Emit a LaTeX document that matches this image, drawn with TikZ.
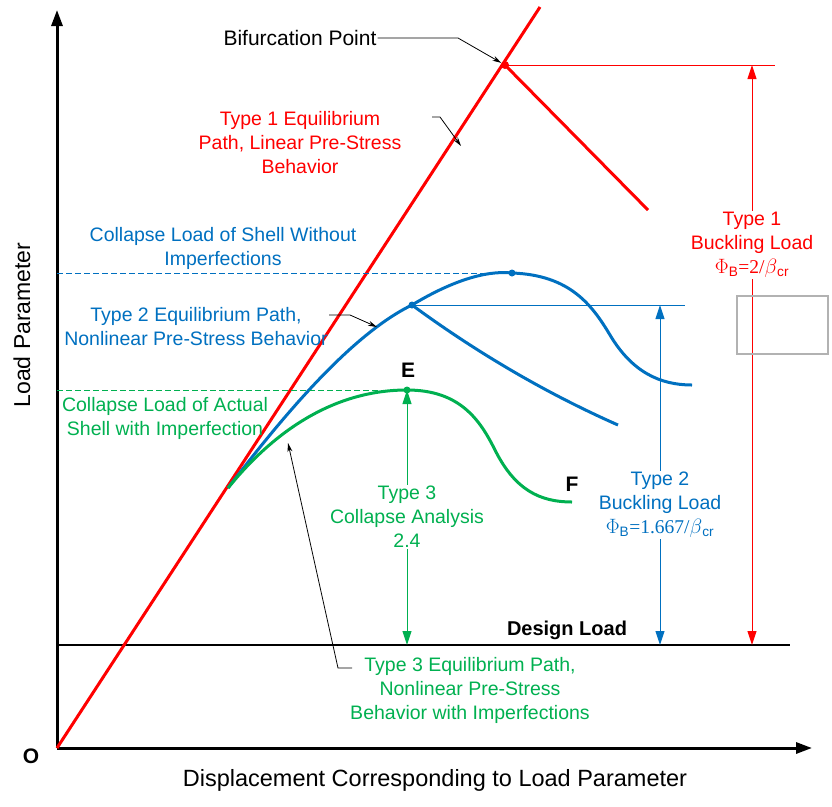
\documentclass[tikz,border=0pt]{standalone}
\usepackage{fontspec}
\setmainfont{Liberation Sans}
\newfontfamily\serifff{Liberation Serif}
\usetikzlibrary{arrows.meta}
\definecolor{cred}{HTML}{FF0000}
\definecolor{cblue}{HTML}{0070C0}
\definecolor{cgreen}{HTML}{00B050}
\begin{document}
\begin{tikzpicture}[x=1pt,y=-1pt,
  lab/.style={font=\fontsize{19.5}{24}\selectfont,align=center,inner sep=1pt},
  path/.style={line width=3pt},
  dim/.style={line width=1pt,{Triangle[length=14pt,width=9pt]}-{Triangle[length=14pt,width=9pt]}},
  lead/.style={line width=0.8pt,-{Stealth[length=9pt,width=5pt]}},
  dot/.style={circle,fill,inner sep=0pt,minimum size=7pt}]
\useasboundingbox (0,0) rectangle (832,806);
% axes
\coordinate (O) at (57,748);
\coordinate (ytop) at (57,10);
\coordinate (xend) at (812,748);
\draw[line width=3pt,-{Triangle[length=16pt,width=11pt]}] (O) -- (ytop);
\draw[line width=3pt,-{Triangle[length=16pt,width=11pt]}] (O) -- (xend);
\node[lab,font=\fontsize{21}{25}\selectfont\bfseries] (Olab) at (31,756) {O};
\node[lab,font=\fontsize{23}{27}\selectfont,rotate=90] (ylab) at (22,325) {Load Parameter};
\node[lab,font=\fontsize{23.5}{27}\selectfont] (xlab) at (435,780) {Displacement Corresponding to Load Parameter};
% design load
\coordinate (dl1) at (57,645);
\coordinate (dl2) at (790,645);
\draw[line width=1.2pt] (dl1) -- (dl2);
\node[lab,font=\fontsize{20}{24}\selectfont\bfseries] (dlab) at (567,630) {Design Load};
% red
\coordinate (r0) at (57,748);
\coordinate (r1) at (540,7);
\node[dot,cred,minimum size=8pt] (bif) at (505,65) {};
\coordinate (rend) at (648,210);
\draw[path,cred] (r0) -- (r1);
\draw[path,cred] (bif.center) -- (rend);
\coordinate (rh) at (775,65);
\draw[cred,line width=1pt] (bif.center) -- (rh);
\coordinate (rt) at (752,65);
\coordinate (rb) at (752,645);
\draw[dim,cred] (rt) -- (rb);
\node[lab,cred,fill=white] (t1) at (752,245) {Type 1\\Buckling Load\\{\serifff $\Phi_{\mathrm{B}}$=2/$\beta$}\textsubscript{cr}};
\node[draw=gray!60,line width=1.2pt,minimum width=91pt,minimum height=58pt] (gbox) at (782.5,325) {};
% blue
\node[dot,cblue] (b1) at (412,305) {};
\node[dot,cblue] (b2) at (512,273) {};
\coordinate (bs) at (228,488);
\draw[path,cblue] (bs) .. controls (280,420) and (350,335) .. (b1.center)
  .. controls (450,282) and (485,270) .. (b2.center)
  .. controls (570,275) and (592,305) .. (610,335)
  .. controls (632,372) and (660,385) .. (692,385);
\coordinate (bb) at (618,425);
\draw[path,cblue] (b1.center) .. controls (480,355) and (550,395) .. (bb);
\coordinate (bd) at (57,273);
\draw[cblue,dash pattern=on 6pt off 3pt,line width=0.8pt] (bd) -- (b2.center);
\coordinate (bh) at (685,305);
\draw[cblue,line width=1pt] (b1.center) -- (bh);
\coordinate (bt) at (660,305);
\coordinate (bbot) at (660,645);
\draw[dim,cblue] (bt) -- (bbot);
\node[lab,cblue,fill=white] (t2) at (660,505) {Type 2\\Buckling Load\\{\serifff $\Phi_{\mathrm{B}}$=1.667/$\beta$}\textsubscript{cr}};
% green
\node[dot,cgreen] (g1) at (407,390) {};
\draw[path,cgreen] (bs) .. controls (275,430) and (335,390) .. (g1.center)
  .. controls (460,390) and (480,420) .. (495,450)
  .. controls (515,490) and (540,502) .. (572,502);
\coordinate (gd) at (57,390);
\draw[cgreen,dash pattern=on 6pt off 3pt,line width=0.8pt] (gd) -- (g1.center);
\coordinate (gb) at (407,645);
\draw[dim,cgreen] (g1.center) -- (gb);
\node[lab,cgreen,fill=white] (t3) at (407,517) {Type 3\\Collapse Analysis\\2.4};
\node[lab,font=\fontsize{21}{25}\selectfont\bfseries] (E) at (408,370) {E};
\node[lab,font=\fontsize{21}{25}\selectfont\bfseries] (F) at (572,484) {F};
% labels
\node[lab,font=\fontsize{21}{25}\selectfont] (bifl) at (300,38) {Bifurcation Point};
\coordinate (bk) at (458,38);
\draw[lead] (bifl.east) -- (bk) -- (bif);
\node[lab,cred] (t1e) at (300,143) {Type 1 Equilibrium\\Path, Linear Pre-Stress\\Behavior};
\coordinate (k1a) at (432,117);
\coordinate (k1b) at (440,117);
\coordinate (k1c) at (461,146);
\draw[lead] (k1a) -- (k1b) -- (k1c);
\node[lab,cblue] (cls) at (223,248) {Collapse Load of Shell Without\\Imperfections};
\node[lab,cblue] (t2e) at (196,327) {Type 2 Equilibrium Path,\\Nonlinear Pre-Stress Behavior};
\coordinate (k2a) at (329,315);
\coordinate (k2b) at (350,315);
\coordinate (k2c) at (377,327);
\draw[lead] (k2a) -- (k2b) -- (k2c);
\node[lab,cgreen] (cla) at (165,418) {Collapse Load of Actual\\Shell with Imperfection};
\node[lab,cgreen] (t3e) at (470,690) {Type 3 Equilibrium Path,\\Nonlinear Pre-Stress\\Behavior with Imperfections};
\coordinate (k3a) at (352,668);
\coordinate (k3b) at (338,668);
\coordinate (k3c) at (288,443);
\draw[lead] (k3a) -- (k3b) -- (k3c);
\end{tikzpicture}
\end{document}
